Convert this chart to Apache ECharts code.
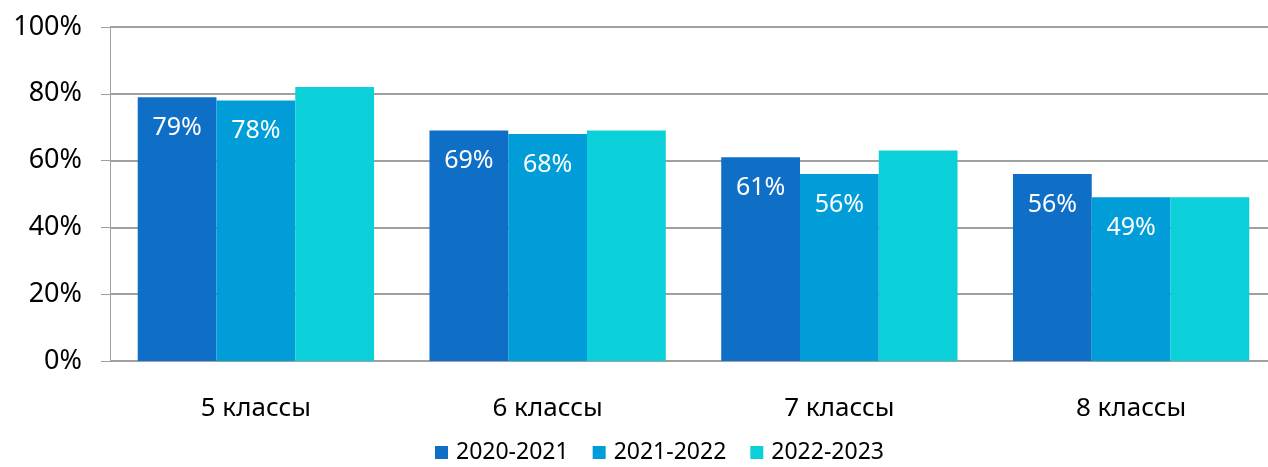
<!DOCTYPE html>
<html>
<head>
<meta charset="utf-8">
<script src="https://cdn.jsdelivr.net/npm/echarts@6/dist/echarts.min.js"></script>
<style>
  html, body { margin: 0; padding: 0; background: #fff; }
  #chart { width: 1268px; height: 467px; }
</style>
</head>
<body>
<div id="chart"></div>
<script>
var categories = ['5 классы', '6 классы', '7 классы', '8 классы'];
var seriesNames = ['2020-2021', '2021-2022', '2022-2023'];
var values2020 = [79, 69, 61, 56];
var values2021 = [78, 68, 56, 49];
var values2022 = [82, 69, 63, 49];
var colors = ['#0f6fc6', '#009dd9', '#0bd0d9'];

var font = 'Noto Sans';
var chart = echarts.init(document.getElementById('chart'));

function barLabel(show) {
    return {
        show: show,
        position: 'insideTop',
        distance: 18,
        color: '#fff',
        fontFamily: font,
        fontSize: 25,
        formatter: '{c}%'
    };
}

var option = {
    animation: false,
    color: colors,
    // plot area runs a little past the right edge, like the original
    grid: { left: 110, width: 1167, top: 27, bottom: 106, outerBoundsMode: 'none' },
    legend: {
        bottom: -2,
        left: 430,
        itemWidth: 13,
        itemHeight: 13,
        itemGap: 24,
        icon: 'rect',
        textStyle: { fontFamily: font, fontSize: 23, color: '#000', padding: [0, 0, 0, 3] },
        data: seriesNames
    },
    xAxis: {
        type: 'category',
        data: categories,
        axisLine: { show: false },
        axisTick: { show: false },
        axisLabel: { margin: 35, fontFamily: font, fontSize: 26, color: '#000' }
    },
    yAxis: {
        type: 'value',
        min: 0,
        max: 100,
        interval: 20,
        axisLine: { show: true, lineStyle: { color: '#a0a0a0', width: 1 } },
        axisTick: { show: true, length: 9, lineStyle: { color: '#a0a0a0' } },
        splitLine: { lineStyle: { color: '#a0a0a0', width: 2 } },
        axisLabel: { margin: 28, fontFamily: font, fontSize: 27, color: '#000', formatter: '{value}%' }
    },
    series: [
        { name: seriesNames[0], type: 'bar', data: values2020, barGap: '0%', barCategoryGap: '19%', label: barLabel(true) },
        { name: seriesNames[1], type: 'bar', data: values2021, barGap: '0%', barCategoryGap: '19%', label: barLabel(true) },
        { name: seriesNames[2], type: 'bar', data: values2022, barGap: '0%', barCategoryGap: '19%', label: barLabel(false) }
    ]
};
chart.setOption(option);
</script>
</body>
</html>
